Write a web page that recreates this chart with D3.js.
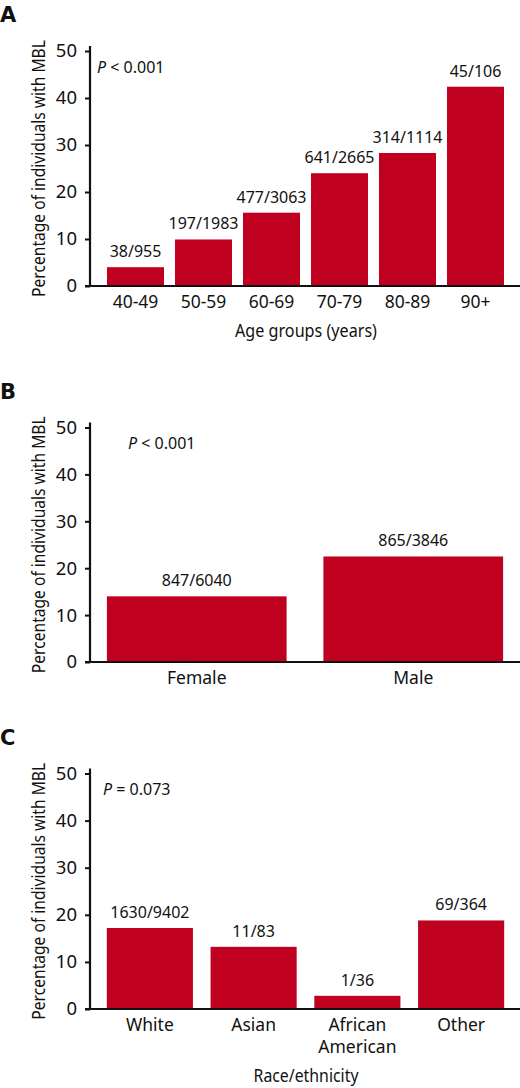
<!DOCTYPE html>
<html><head><meta charset="utf-8">
<script src="https://cdn.jsdelivr.net/npm/d3@7/dist/d3.min.js"></script>
<style>
body{margin:0;background:#fff;}
svg{display:block;}
.tick text{font-family:"Noto Sans",sans-serif;font-size:18.5px;fill:#111;}
</style></head><body>
<svg id="c" width="520" height="1088"></svg>
<script>
// ---- data ----
const ageGroups = ["40-49","50-59","60-69","70-79","80-89","90+"];
const ageValues = [4.0, 9.9, 15.6, 24.0, 28.3, 42.4];
const ageLabels = ["38/955","197/1983","477/3063","641/2665","314/1114","45/106"];

const sexGroups = ["Female","Male"];
const sexValues = [14.0, 22.5];
const sexLabels = ["847/6040","865/3846"];

const raceGroups = ["White","Asian","African American","Other"];
const raceValues = [17.2, 13.2, 2.8, 18.8];
const raceLabels = ["1630/9402","11/83","1/36","69/364"];

const yTicks = [0,10,20,30,40,50];
const pTexts = ["< 0.001","< 0.001","= 0.073"];
const yTitle = "Percentage of individuals with MBL";

const RED = "#c0001f";
const svg = d3.select("#c");

// condensed text: measure natural width, then squeeze horizontally
function condensed(g, txt, size, target, tx, ty, rot){
  const t = g.append("text").attr("text-anchor","middle")
    .attr("font-family","'Noto Sans',sans-serif").attr("font-size",size).attr("fill","#111").text(txt);
  const w = t.node().getComputedTextLength();
  const s = target / w;
  t.attr("transform",`translate(${tx},${ty}) rotate(${rot}) scale(${s},1)`);
  return t;
}

function panel(o){
  const g = svg.append("g");
  const y = d3.scaleLinear().domain([0,50]).range([o.y0, o.y50]);
  const x = d3.scaleBand().domain(o.cats).range(o.xr)
    .paddingInner(o.pad).paddingOuter(o.pad/2);
  // letter
  g.append("text").attr("x",0).attr("y",o.letterY).text(o.letter)
    .attr("font-family","'DejaVu Sans',sans-serif").attr("font-weight","bold")
    .attr("font-size",21).attr("fill","#111");
  // bars
  g.selectAll("rect.bar").data(o.cats).join("rect")
    .attr("x",d=>x(d)).attr("width",x.bandwidth())
    .attr("y",(d,i)=>y(o.vals[i])).attr("height",(d,i)=>y(0)-y(o.vals[i]))
    .attr("fill",RED);
  // value labels
  g.selectAll("text.vl").data(o.cats).join("text")
    .attr("x",d=>x(d)+x.bandwidth()/2).attr("y",(d,i)=>y(o.vals[i])-10)
    .attr("text-anchor","middle")
    .attr("font-family","'Noto Sans',sans-serif").attr("font-size",16).attr("fill","#111")
    .text((d,i)=>o.labels[i]);
  // y axis
  const ax = g.append("g").attr("transform",`translate(90,0)`)
    .call(d3.axisLeft(y).tickValues(yTicks).tickSize(5).tickPadding(8));
  ax.select(".domain").remove();
  ax.selectAll(".tick line").attr("stroke","#111").attr("stroke-width",2);
  g.append("line").attr("x1",90).attr("x2",90).attr("y1",y(50)-5).attr("y2",y(0)+1)
    .attr("stroke","#111").attr("stroke-width",2.2);
  g.append("line").attr("x1",85).attr("x2",520).attr("y1",y(0)).attr("y2",y(0))
    .attr("stroke","#111").attr("stroke-width",2.2);
  // x labels
  o.cats.forEach(c=>{
    const words = c === "African American" ? ["African","American"] : [c];
    const t = g.append("text").attr("x",x(c)+x.bandwidth()/2).attr("y",y(0)+22)
      .attr("text-anchor","middle")
      .attr("font-family","'Noto Sans',sans-serif").attr("font-size",17.5).attr("fill","#111");
    words.forEach((w,k)=>t.append("tspan").attr("x",x(c)+x.bandwidth()/2).attr("dy",k?22:0).text(w));
  });
  // y title
  const cy = (y(0)+y(50))/2;
  condensed(g, yTitle, 19, 257, o.titleX, cy, -90);
  // p text
  const pt = g.append("text").attr("x",o.px).attr("y",o.py)
    .attr("font-family","'Noto Sans',sans-serif").attr("font-size",16).attr("fill","#111");
  pt.append("tspan").attr("font-style","italic").text("P");
  pt.append("tspan").text(" "+o.p);
  // x title
  if(o.xTitle){
    condensed(g, o.xTitle, 19, o.xTitleLen, o.xTitleX, o.xTitleY, 0);
  }
}

panel({letter:"A",letterY:22,cats:ageGroups,vals:ageValues,labels:ageLabels,
  y0:286,y50:51,xr:[101.5,509.5],pad:0.162,titleX:45,px:97,py:73,p:pTexts[0],
  xTitle:"Age groups (years)",xTitleX:306,xTitleY:337,xTitleLen:142});
panel({letter:"B",letterY:399,cats:sexGroups,vals:sexValues,labels:sexLabels,
  y0:662,y50:427.5,xr:[88.5,521.5],pad:0.17,titleX:45,px:128,py:449,p:pTexts[1]});
panel({letter:"C",letterY:745,cats:raceGroups,vals:raceValues,labels:raceLabels,
  y0:1009,y50:773.5,xr:[98,513],pad:0.17,titleX:45,px:103,py:795,p:pTexts[2],
  xTitle:"Race/ethnicity",xTitleX:306,xTitleY:1082,xTitleLen:105});
</script>
</body></html>
